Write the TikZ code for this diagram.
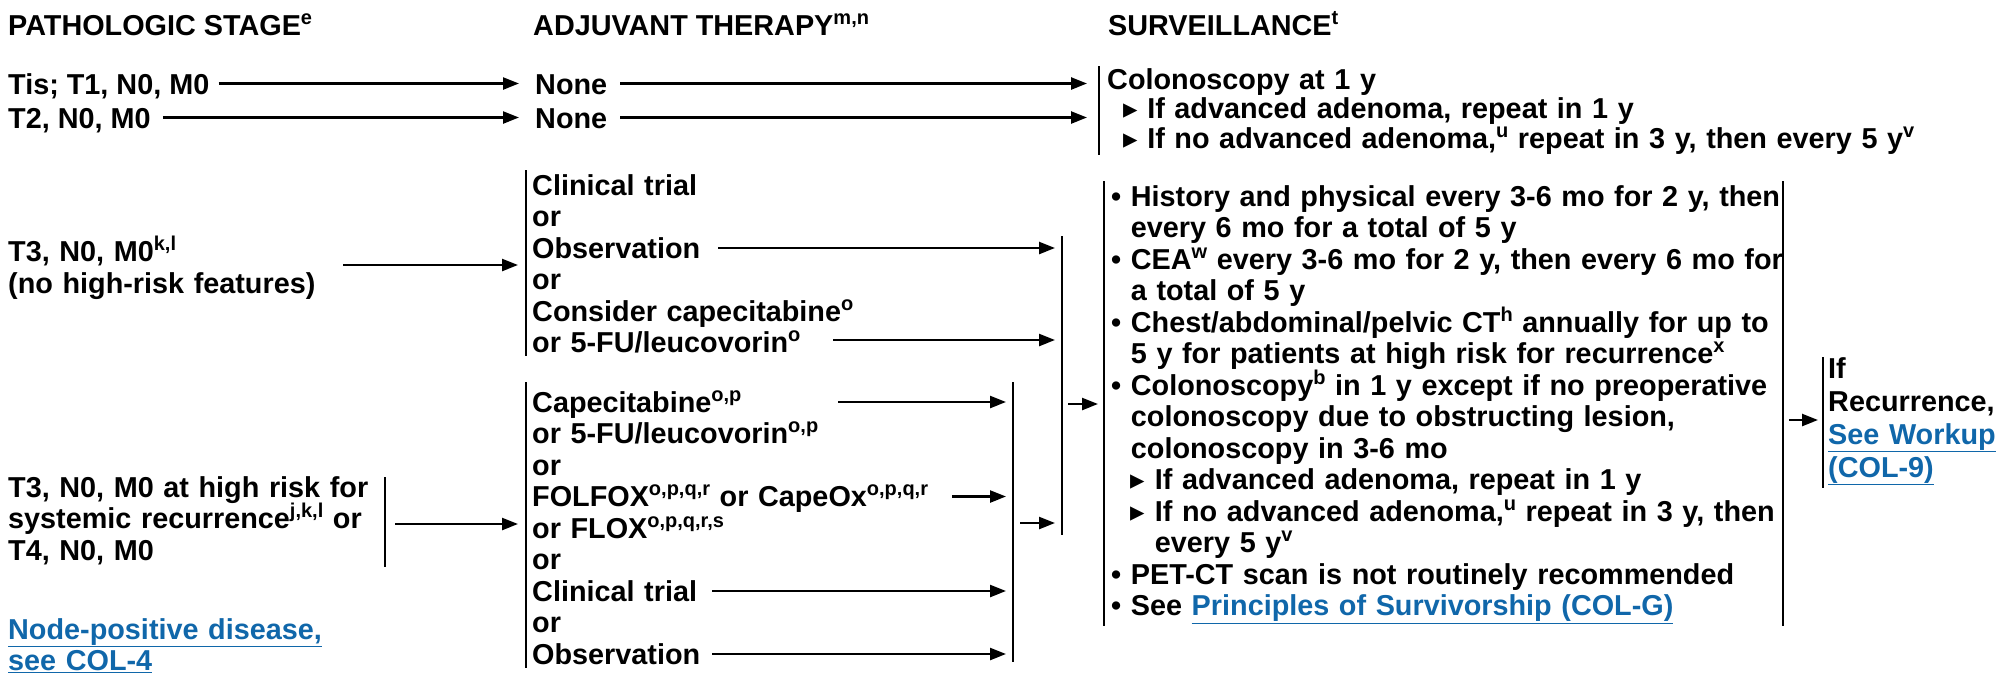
\documentclass[tikz,border=0pt]{standalone}
\usepackage{fontspec}
\setmainfont{Liberation Sans}
\newfontfamily\symfont{DejaVu Sans}
\usetikzlibrary{arrows.meta,calc}
\definecolor{linkblue}{RGB}{16,103,170}
\newcommand{\lnk}[1]{\textcolor{linkblue}{\underline{#1}}}
\newcommand{\tri}{{\symfont\mdseries ▸}}
\newcommand{\sps}[1]{\raisebox{0.37em}{\fontsize{20}{20}\selectfont #1}}
\begin{document}
\begin{tikzpicture}[x=1pt,y=-1pt,
  txt/.style={inner sep=0pt, font=\bfseries\fontsize{28.8}{31.5}\selectfont, anchor=base west},
  blk/.style={txt, text width=#1, align=left},
  arr/.style={line width=2.4pt, -{Triangle[length=16pt,width=12pt]}},
  bar/.style={line width=2.4pt}]
\useasboundingbox (0,0) rectangle (1999,673);

% headings
\node[txt] (h1) at (8,35) {PATHOLOGIC STAGE\sps{e}};
\node[txt] (h2) at (533,35) {ADJUVANT THERAPY\sps{m,n}};
\node[txt] (h3) at (1108,35) {SURVEILLANCE\sps{t}};

% rows 1 and 2
\node[txt] (s1) at (8,94) {Tis; T1, N0, M0};
\node[txt] (s2) at (8,128) {T2, N0, M0};
\node[txt] (n1) at (535,94) {None};
\node[txt] (n2) at (535,128) {None};
\coordinate (b1t) at (1099,66);
\coordinate (b1b) at (1099,155);
\draw[bar] (b1t) -- (b1b);
\draw[arr] ($(s1.base east)+(9,-10.5)$) -- ($(n1.base west)+(-16,-10.5)$);
\draw[arr] ($(s2.base east)+(12,-10.5)$) -- ($(n2.base west)+(-16,-10.5)$);
\draw[arr, shorten >=12pt] ($(n1.base east)+(13,-10.5)$) -- ($(n1.base east -| b1t)+(0,-10.5)$);
\draw[arr, shorten >=12pt] ($(n2.base east)+(13,-10.5)$) -- ($(n2.base east -| b1t)+(0,-10.5)$);
\node[blk=890pt, font=\bfseries\fontsize{28.8}{29.5}\selectfont] (sv1) at (1107,89)
  {Colonoscopy at 1 y\\
   \hspace*{16pt}\tri\ If advanced adenoma, repeat in 1 y\\
   \hspace*{16pt}\tri\ If no advanced adenoma,\sps{u} repeat in 3 y, then every 5 y\sps{v}};

% T3 no high risk
\node[blk=340pt, font=\bfseries\fontsize{28.8}{32}\selectfont] (t3a) at (8,261) {T3, N0, M0\sps{k,l}\\(no high-risk features)};
\coordinate (br2t) at (526,170);
\coordinate (br2b) at (526,356);
\draw[bar] (br2t) -- (br2b);
\coordinate (a3s) at (343,265);
\draw[arr, shorten >=8pt] (a3s) -- (a3s -| br2t);
\node[blk=520pt] (op1) at (532,195)
  {Clinical trial\\or\\Observation\\or\\Consider capecitabine\sps{o}\\or 5-FU/leucovorin\sps{o}};
\coordinate (b3t) at (1062,236);
\coordinate (b3b) at (1062,535);
\draw[bar] (b3t) -- (b3b);
\coordinate (o1s) at (718,248);
\coordinate (o2s) at (833,340);
\draw[arr, shorten >=7pt] (o1s) -- (o1s -| b3t);
\draw[arr, shorten >=7pt] (o2s) -- (o2s -| b3t);

% surveillance box
\coordinate (bxlt) at (1104,181);
\coordinate (bxlb) at (1104,626);
\coordinate (bxrt) at (1783,181);
\coordinate (bxrb) at (1783,626);
\draw[bar] (bxlt) -- (bxlb);
\draw[bar] (bxrt) -- (bxrb);
\coordinate (a4s) at (1068,404);
\draw[arr, shorten >=6pt] (a4s) -- (a4s -| bxlt);
\node[blk=760pt] (box) at (1111,206)
  {• History and physical every 3-6 mo for 2 y, then\\
   \hphantom{• }every 6 mo for a total of 5 y\\
   • CEA\sps{w} every 3-6 mo for 2 y, then every 6 mo for\\
   \hphantom{• }a total of 5 y\\
   • Chest/abdominal/pelvic CT\sps{h} annually for up to\\
   \hphantom{• }5 y for patients at high risk for recurrence\sps{x}\\
   • Colonoscopy\sps{b} in 1 y except if no preoperative\\
   \hphantom{• }colonoscopy due to obstructing lesion,\\
   \hphantom{• }colonoscopy in 3-6 mo\\
   \hphantom{• }\tri\ If advanced adenoma, repeat in 1 y\\
   \hphantom{• }\tri\ If no advanced adenoma,\sps{u} repeat in 3 y, then\\
   \hphantom{• \tri\ }every 5 y\sps{v}\\
   • PET-CT scan is not routinely recommended\\
   • See \lnk{Principles of Survivorship (COL-G)}};

% recurrence
\coordinate (rbt) at (1823,357);
\coordinate (rbb) at (1823,488);
\draw[bar] (rbt) -- (rbb);
\coordinate (a5s) at (1789,420);
\draw[arr, shorten >=5pt] (a5s) -- (a5s -| rbt);
\node[blk=176pt, font=\bfseries\fontsize{28.8}{33}\selectfont] (rec) at (1828,378) {If\\Recurrence,\\\lnk{See Workup}\\\lnk{(COL-9)}};

% T3 high risk / T4
\node[blk=380pt] (t3b) at (8,497) {T3, N0, M0 at high risk for\\systemic recurrence\sps{j,k,l} or\\T4, N0, M0};
\coordinate (b4t) at (385,477);
\coordinate (b4b) at (385,567);
\draw[bar] (b4t) -- (b4b);
\coordinate (br5t) at (526,382);
\coordinate (br5b) at (526,668);
\draw[bar] (br5t) -- (br5b);
\coordinate (a6s) at (395,524);
\draw[arr, shorten >=8pt] (a6s) -- (a6s -| br5t);
\node[blk=480pt] (op2) at (532,412)
  {Capecitabine\sps{o,p}\\or 5-FU/leucovorin\sps{o,p}\\or\\FOLFOX\sps{o,p,q,r} or CapeOx\sps{o,p,q,r}\\or FLOX\sps{o,p,q,r,s}\\or\\Clinical trial\\or\\Observation};
\coordinate (b6t) at (1013,382);
\coordinate (b6b) at (1013,662);
\draw[bar] (b6t) -- (b6b);
\coordinate (p1s) at (838,402);
\coordinate (p2s) at (952,496.5);
\coordinate (p3s) at (712,591);
\coordinate (p4s) at (712,654);
\draw[arr, shorten >=7pt] (p1s) -- (p1s -| b6t);
\draw[arr, shorten >=7pt] (p2s) -- (p2s -| b6t);
\draw[arr, shorten >=7pt] (p3s) -- (p3s -| b6t);
\draw[arr, shorten >=7pt] (p4s) -- (p4s -| b6t);
\coordinate (a7s) at (1020,523);
\draw[arr, shorten >=7pt] (a7s) -- (a7s -| b3t);

% link
\node[blk=400pt] (np) at (8,639) {\lnk{Node-positive disease,}\\\lnk{see COL-4}};
\end{tikzpicture}
\end{document}
